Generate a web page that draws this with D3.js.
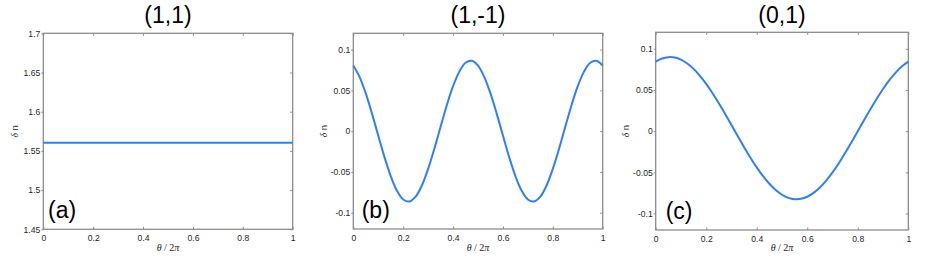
<!DOCTYPE html>
<html>
<head>
<meta charset="utf-8">
<script src="https://cdn.jsdelivr.net/npm/d3@7/dist/d3.min.js"></script>
<style>
html,body{margin:0;padding:0;background:#fff;}
svg{display:block;}
</style>
</head>
<body>
<svg id="chart" width="941" height="260"></svg>
<script>
// ---------- data ----------
const titles = ["(1,1)", "(1,-1)", "(0,1)"];
const panelLabels = ["(a)", "(b)", "(c)"];
const xTicks = [0, 0.2, 0.4, 0.6, 0.8, 1];
const xTickLabels = ["0", "0.2", "0.4", "0.6", "0.8", "1"];
const yTicksA = [1.45, 1.5, 1.55, 1.6, 1.65, 1.7];
const yTickLabelsA = ["1.45", "1.5", "1.55", "1.6", "1.65", "1.7"];
const yTicksBC = [-0.1, -0.05, 0, 0.05, 0.1];
const yTickLabelsBC = ["-0.1", "-0.05", "0", "0.05", "0.1"];

const thetaA = [0, 0.25, 0.5, 0.75, 1];
const valuesA = [1.5605, 1.5605, 1.5605, 1.5605, 1.5605];

const theta = [0, 0.025, 0.05, 0.075, 0.1, 0.125, 0.15, 0.175, 0.2, 0.225,
  0.25, 0.275, 0.3, 0.325, 0.35, 0.375, 0.4, 0.425, 0.45, 0.475,
  0.5, 0.525, 0.55, 0.575, 0.6, 0.625, 0.65, 0.675, 0.7, 0.725,
  0.75, 0.775, 0.8, 0.825, 0.85, 0.875, 0.9, 0.925, 0.95, 0.975, 1];
const valuesB = [0.0804, 0.0666, 0.0463, 0.0215, -0.0054, -0.0318, -0.0551, -0.0730, -0.0838, -0.0863,
  -0.0804, -0.0666, -0.0463, -0.0215, 0.0054, 0.0318, 0.0551, 0.0730, 0.0838, 0.0863,
  0.0804, 0.0666, 0.0463, 0.0215, -0.0054, -0.0318, -0.0551, -0.0730, -0.0838, -0.0863,
  -0.0804, -0.0666, -0.0463, -0.0215, 0.0054, 0.0318, 0.0551, 0.0730, 0.0838, 0.0863, 0.0804];
const valuesC = [0.0844, 0.0882, 0.0898, 0.0893, 0.0868, 0.0821, 0.0756, 0.0672, 0.0573, 0.0461,
  0.0338, 0.0208, 0.0074, -0.0062, -0.0195, -0.0322, -0.0440, -0.0547, -0.0639, -0.0715,
  -0.0772, -0.0810, -0.0826, -0.0821, -0.0796, -0.0749, -0.0684, -0.0600, -0.0501, -0.0389,
  -0.0266, -0.0136, -0.0002, 0.0134, 0.0267, 0.0394, 0.0512, 0.0619, 0.0711, 0.0787, 0.0844];

// ---------- layout ----------
const panels = [
  {x0: 43.3, x1: 292.7, y0: 33.3, y1: 229.3, ydom: [1.45, 1.7], yt: yTicksA, ytl: yTickLabelsA,
   xs: thetaA, ys: valuesA, lab: 4.7, ylabX: 15},
  {x0: 353.3, x1: 602.7, y0: 33.3, y1: 229.0, ydom: [-0.12, 0.12], yt: yTicksBC, ytl: yTickLabelsBC,
   xs: theta, ys: valuesB, lab: 8.4, ylabX: 324},
  {x0: 655.7, x1: 908.3, y0: 32.3, y1: 230.0, ydom: [-0.12, 0.12], yt: yTicksBC, ytl: yTickLabelsBC,
   xs: theta, ys: valuesC, lab: 10, ylabX: 626}
];

const svg = d3.select("#chart");
const axisColor = "#8c8c8c";
const textColor = "#262626";
const lineColor = "#2f7ff5";
const sans = "Liberation Sans, Arial, sans-serif";
const serif = "Liberation Serif, Times New Roman, serif";

panels.forEach((p, i) => {
  const x = d3.scaleLinear().domain([0, 1]).range([p.x0, p.x1]);
  const y = d3.scaleLinear().domain(p.ydom).range([p.y1, p.y0]);
  const g = svg.append("g");

  // frame
  g.append("rect").attr("x", p.x0).attr("y", p.y0)
    .attr("width", p.x1 - p.x0).attr("height", p.y1 - p.y0)
    .attr("fill", "none").attr("stroke", axisColor).attr("stroke-width", 1.3);

  // bottom axis
  const bx = g.append("g").attr("transform", `translate(0,${p.y1})`)
    .call(d3.axisBottom(x).tickValues(xTicks).tickFormat((d, k) => xTickLabels[k])
      .tickSizeInner(-2.5).tickSizeOuter(0).tickPadding(6));
  // top axis (ticks only)
  const tx = g.append("g").attr("transform", `translate(0,${p.y0})`)
    .call(d3.axisTop(x).tickValues(xTicks).tickFormat("").tickSizeInner(-2.5).tickSizeOuter(0));
  // left axis
  const ly = g.append("g").attr("transform", `translate(${p.x0},0)`)
    .call(d3.axisLeft(y).tickValues(p.yt).tickFormat((d, k) => p.ytl[k])
      .tickSizeInner(2).tickSizeOuter(0).tickPadding(1));
  // right axis (ticks only)
  const ry = g.append("g").attr("transform", `translate(${p.x1},0)`)
    .call(d3.axisRight(y).tickValues(p.yt).tickFormat("").tickSizeInner(-2.5).tickSizeOuter(0));

  [bx, tx, ly, ry].forEach(a => {
    a.select(".domain").remove();
    a.selectAll("line").attr("stroke", axisColor).attr("stroke-width", 1);
    a.selectAll("text").attr("fill", textColor).style("font-family", sans).style("font-size", "8.6px");
  });

  // data line
  const data = p.xs.map((t, k) => [t, p.ys[k]]);
  g.append("path").datum(data)
    .attr("fill", "none").attr("stroke", lineColor).attr("stroke-width", 2)
    .attr("d", d3.line().x(d => x(d[0])).y(d => y(d[1])).curve(d3.curveCatmullRom));

  // title
  g.append("text").attr("x", (p.x0 + p.x1) / 2).attr("y", 23)
    .attr("text-anchor", "middle").attr("fill", "#000")
    .style("font-family", sans).style("font-size", "23px").text(titles[i]);

  // panel label
  g.append("text").attr("x", p.x0 + p.lab).attr("y", p.y1 - 11)
    .attr("fill", "#000").style("font-family", sans).style("font-size", "23px").text(panelLabels[i]);

  // x label
  const xl = g.append("text").attr("x", (p.x0 + p.x1) / 2).attr("y", 251)
    .attr("text-anchor", "middle").attr("fill", textColor)
    .style("font-family", serif).style("font-size", "10px");
  xl.append("tspan").style("font-style", "italic").text("θ");
  xl.append("tspan").text(" / 2");
  xl.append("tspan").style("font-style", "italic").text("π");

  // y label
  const yc = (p.y0 + p.y1) / 2;
  const yl = g.append("text").attr("transform", `translate(${p.ylabX + 3},${yc}) rotate(-90)`)
    .attr("text-anchor", "middle").attr("fill", textColor)
    .style("font-family", serif).style("font-size", "9.5px");
  yl.append("tspan").style("font-style", "italic").text("δ");
  yl.append("tspan").style("font-family", sans).text(" n");
});
</script>
</body>
</html>
